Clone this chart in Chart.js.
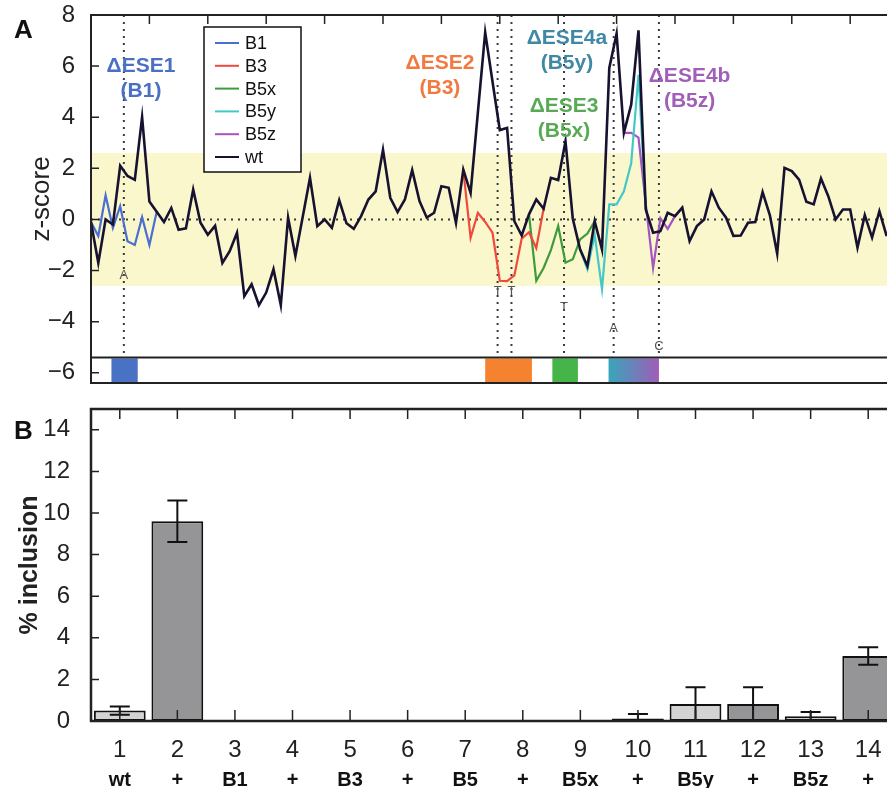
<!DOCTYPE html>
<html>
<head>
<meta charset="utf-8">
<script src="https://cdn.jsdelivr.net/npm/chart.js@4"></script>
<style>
  html, body { margin: 0; padding: 0; background: #fff; overflow: hidden; width: 887px; height: 788px; }
  #wrap { position: relative; width: 887px; height: 788px; overflow: hidden; }
  canvas { position: absolute; left: 0; }
  #cA { top: 0; }
  #cB { top: 395px; }
</style>
</head>
<body>
<div id="wrap">
  <canvas id="cA" width="900" height="395"></canvas>
  <canvas id="cB" width="900" height="393"></canvas>
</div>
<script>
// Panel A: ESE z-score profile for wt and the mutants, panel B: % inclusion per lane.

const FONT = '"Liberation Sans", Arial, Helvetica, sans-serif';

// --- panel A data (x = nucleotide window index) ---
const wtZ = [
  -0.1, -1.7, 0.0, -0.2, 2.1, 1.7, 1.55, 4.0, 0.7, 0.3,
  -0.1, 0.45, -0.4, -0.35, 1.17, -0.13, -0.6, -0.25, -1.7, -1.24,
  -0.52, -3.0, -2.54, -3.35, -2.86, -1.95, -3.35, 0.07, -1.43, 0.1,
  1.63, -0.26, 0.0, -0.33, 0.75, -0.15, -0.37, 0.13, 0.78, 1.1,
  2.73, 0.85, 0.29, 0.78, 1.93, 0.72, 0.07, 0.26, 1.3, 1.24,
  -0.13, 1.95, 1.04, 4.2, 7.32, 5.4, 3.5, 3.58, -0.07, -0.63,
  0.2, 0.78, 0.42, 1.63, 1.54, 3.06, 0.03, -1.17, -1.82, -0.07,
  -1.17, 5.93, 7.27, 3.39, 4.49, 7.4, 0.39, -0.52, -0.46, 0.26,
  0.13, 0.46, -0.85, -0.26, 0.0, 1.1, 0.46, 0.07, -0.64, -0.63,
  -0.13, -0.1, 1.07, 0.16, -1.34, 2.02, 1.89, 1.56, 0.69, 0.59,
  1.6, 0.91, 0.0, 0.39, 0.39, -1.1, 0.17, -0.71, 0.32, -0.65,
];
const b1Start = 0;
const b1Z = [-0.1, -0.65, 0.94, -0.33, 0.52, -0.85, -1.0, 0.09, -1.0, 0.3];
const b3Start = 51;
const b3Z = [1.95, -0.72, 0.26, -0.1, -0.52, -2.4, -2.41, -2.19, -0.75, -0.5, -1.12, 0.42];
const b5xStart = 60;
const b5xZ = [0.2, -2.4, -1.9, -1.2, -0.26, -1.69, -1.56, -0.78, -0.55, -0.07];
const b5yStart = 67;
const b5yZ = [-1.17, -1.95, -0.6, -2.73, 0.59, 0.59, 1.1, 2.2, 5.66, 0.39];
const b5zStart = 73;
const b5zZ = [3.39, 3.39, 3.2, 0.6, -1.9, 0.05, -0.37, 0.13, 0.46];

const zTicks = [-6, -4, -2, 0, 2, 4, 6, 8];
const xTickStep = 8;
const bandZ = [-2.6, 2.6];
const trackZ = -5.4;

// mutated sites: dotted line position and the substituted base
const siteX = [4.5, 55.7, 57.6, 64.8, 71.6, 77.8];
const siteBase = ['A', 'T', 'T', 'T', 'A', 'C'];
const siteBaseZ = [-2.2, -2.8, -2.8, -3.44, -4.26, -4.96];

// ESE blocks drawn in the track under the plot
const blockFrom = [2.8, 54.0, 63.2, 70.9];
const blockTo = [6.4, 60.4, 66.7, 77.8];
const blockColor = ['#4a72c4', '#f5822e', '#45b549', null];

const eseTitle = ['ΔESE1', 'ΔESE2', 'ΔESE4a', 'ΔESE3', 'ΔESE4b'];
const eseSub = ['(B1)', '(B3)', '(B5y)', '(B5x)', '(B5z)'];
const eseX = [6.85, 47.8, 65.2, 64.8, 82.0];
const eseZ = [5.98, 6.1, 7.1, 4.45, 5.6];
const eseColor = ['#4a6fc4', '#f07a40', '#3f88a6', '#5aaa55', '#a25fb8'];

// --- panel B data ---
const laneNums = ['1', '2', '3', '4', '5', '6', '7', '8', '9', '10', '11', '12', '13', '14'];
const laneNames = ['wt', '+', 'B1', '+', 'B3', '+', 'B5', '+', 'B5x', '+', 'B5y', '+', 'B5z', '+'];
const inclusion = [0.5, 9.6, 0.02, 0.02, 0.02, 0.02, 0.02, 0.02, 0.02, 0.12, 0.82, 0.82, 0.23, 3.13];
const inclusionErr = [0.2, 1.0, 0, 0, 0, 0, 0, 0, 0, 0.22, 0.8, 0.8, 0.2, 0.42];
const incTicks = [0, 2, 4, 6, 8, 10, 12, 14];

const LIGHT = '#d3d3d3', DARK = '#959597';

function pts(start, vals) { return vals.map((v, k) => ({ x: start + k, y: v })); }
function fmtMinus(v) { return v < 0 ? '\u2212' + Math.abs(v) : String(v); }

function dotted(ctx, x1, y1, x2, y2) {
  ctx.beginPath();
  ctx.moveTo(x1, y1);
  ctx.lineTo(x2, y2);
  ctx.stroke();
}

// keep the plot frame where the figure has it: no extra room for half-labels
function fixVertical(width) {
  return s => { s.width = width; s.paddingTop = 0; s.paddingBottom = 0; };
}

const profileUnderlay = {
  id: 'profile-under',
  beforeDatasetsDraw(chart) {
    const { ctx, chartArea: a, scales: { x, y } } = chart;
    ctx.save();
    const t = y.getPixelForValue(bandZ[1]), b = y.getPixelForValue(bandZ[0]);
    ctx.fillStyle = '#fbf7cc';
    ctx.fillRect(a.left, t, a.right - a.left, b - t);
    ctx.strokeStyle = '#3a3a3a';
    ctx.lineWidth = 2;
    ctx.setLineDash([2, 5]);
    const y0 = y.getPixelForValue(0);
    dotted(ctx, a.left, y0, a.right, y0);
    const yt = y.getPixelForValue(trackZ);
    for (const sx of siteX) {
      const px = x.getPixelForValue(sx);
      dotted(ctx, px, a.top, px, yt);
    }
    ctx.setLineDash([]);
    ctx.restore();
  },
};

const profileOverlay = {
  id: 'profile-over',
  afterDatasetsDraw(chart) {
    const { ctx, chartArea: a, scales: { x, y } } = chart;
    ctx.save();
    // substituted bases
    ctx.font = '13px ' + FONT;
    ctx.fillStyle = '#555';
    ctx.textAlign = 'center';
    ctx.textBaseline = 'middle';
    siteBase.forEach((s, i) => ctx.fillText(s, x.getPixelForValue(siteX[i]), y.getPixelForValue(siteBaseZ[i])));

    // track with ESE blocks
    const yt = y.getPixelForValue(trackZ);
    ctx.fillStyle = '#fff';
    ctx.fillRect(a.left, yt, a.right - a.left, a.bottom - yt);
    blockFrom.forEach((f, i) => {
      const x1 = x.getPixelForValue(f), x2 = x.getPixelForValue(blockTo[i]);
      if (blockColor[i]) {
        ctx.fillStyle = blockColor[i];
      } else {
        const g = ctx.createLinearGradient(x1, 0, x2, 0);
        g.addColorStop(0, '#38a6bb');
        g.addColorStop(1, '#a05cb8');
        ctx.fillStyle = g;
      }
      ctx.fillRect(x1, yt + 1, x2 - x1, a.bottom - yt - 1);
    });

    // frame
    ctx.strokeStyle = '#222';
    ctx.lineWidth = 2;
    ctx.beginPath();
    ctx.moveTo(a.right + 2, a.top); ctx.lineTo(a.left, a.top); ctx.lineTo(a.left, a.bottom); ctx.lineTo(a.right + 2, a.bottom);
    ctx.moveTo(a.left, yt); ctx.lineTo(a.right + 2, yt);
    ctx.stroke();
    ctx.lineWidth = 1.5;
    ctx.beginPath();
    for (let v = xTickStep; v < x.max; v += xTickStep) {
      const px = x.getPixelForValue(v);
      ctx.moveTo(px, a.top); ctx.lineTo(px, a.top + 9);
    }
    for (const v of zTicks) {
      const py = y.getPixelForValue(v);
      if (py <= a.top + 1) continue;
      ctx.moveTo(a.left, py); ctx.lineTo(a.left + 8, py);
    }
    ctx.stroke();

    // ESE annotations
    ctx.textBaseline = 'middle';
    eseTitle.forEach((t, i) => {
      const px = x.getPixelForValue(eseX[i]), py = y.getPixelForValue(eseZ[i]);
      ctx.fillStyle = eseColor[i];
      ctx.font = 'bold 21px ' + FONT;
      ctx.fillText(t, px, py);
      ctx.fillText(eseSub[i], px, py + 25);
    });

    // legend
    const lx = 204, ly = 27, lw = 97, lh = 145;
    ctx.fillStyle = '#fff';
    ctx.fillRect(lx, ly, lw, lh);
    ctx.strokeStyle = '#111';
    ctx.lineWidth = 1.5;
    ctx.strokeRect(lx, ly, lw, lh);
    ctx.font = '18px ' + FONT;
    ctx.textAlign = 'left';
    chart.data.datasets.forEach((ds, i) => {
      const ry = ly + 16 + i * 22.8;
      ctx.strokeStyle = ds.borderColor;
      ctx.lineWidth = 2;
      dotted(ctx, lx + 11, ry, lx + 35, ry);
      ctx.fillStyle = '#111';
      ctx.fillText(ds.label, lx + 41, ry + 1);
    });

    // panel letter
    ctx.fillStyle = '#111';
    ctx.font = 'bold 26px ' + FONT;
    ctx.fillText('A', 14, 31);
    ctx.restore();
  },
};

const lineDs = (label, data, color, order, width) => ({
  label, data, borderColor: color, backgroundColor: color,
  borderWidth: width, pointRadius: 0, fill: false, tension: 0, order,
});

new Chart(document.getElementById('cA'), {
  type: 'line',
  data: {
    datasets: [
      lineDs('B1', pts(b1Start, b1Z), '#4a6fd0', 1, 2.2),
      lineDs('B3', pts(b3Start, b3Z), '#f04a3e', 1, 2.2),
      lineDs('B5x', pts(b5xStart, b5xZ), '#3d9a3d', 1, 2.2),
      lineDs('B5y', pts(b5yStart, b5yZ), '#45c8c8', 1, 2.2),
      lineDs('B5z', pts(b5zStart, b5zZ), '#a455c0', 1, 2.2),
      lineDs('wt', pts(0, wtZ), '#161230', 0, 2.6),
    ],
  },
  options: {
    responsive: false, animation: false, events: [],
    layout: { padding: { top: 15, right: 2, bottom: 12, left: 0 } },
    scales: {
      x: { type: 'linear', min: 0, max: 110.55, display: false },
      y: {
        min: -6.4, max: 8,
        afterBuildTicks: s => { s.ticks = zTicks.map(v => ({ value: v })); },
        afterFit: fixVertical(91),
        grid: { display: false }, border: { display: false },
        ticks: { font: { size: 24, family: FONT }, color: '#222', padding: 8, callback: v => fmtMinus(v) },
        title: { display: true, text: 'z-score', font: { size: 26, family: FONT }, color: '#222', padding: { top: 26, bottom: 0 } },
      },
    },
    plugins: { legend: { display: false }, tooltip: { enabled: false } },
  },
  plugins: [profileUnderlay, profileOverlay],
});

const barDecor = {
  id: 'bar-decor',
  afterDatasetsDraw(chart) {
    const { ctx, chartArea: a, scales: { x, y } } = chart;
    ctx.save();
    // error bars
    ctx.strokeStyle = '#111';
    ctx.lineWidth = 2;
    const meta = chart.getDatasetMeta(0);
    meta.data.forEach((bar, i) => {
      const e = inclusionErr[i];
      if (!e) return;
      const v = inclusion[i];
      const top = y.getPixelForValue(v + e), bot = y.getPixelForValue(Math.max(0, v - e));
      ctx.beginPath();
      ctx.moveTo(bar.x, top); ctx.lineTo(bar.x, bot);
      ctx.moveTo(bar.x - 10, top); ctx.lineTo(bar.x + 10, top);
      if (v - e > 0.05) { ctx.moveTo(bar.x - 10, bot); ctx.lineTo(bar.x + 10, bot); }
      ctx.stroke();
    });
    // frame and inner ticks
    ctx.strokeStyle = '#222';
    ctx.lineWidth = 2.5;
    ctx.beginPath();
    ctx.moveTo(a.right + 2, a.top); ctx.lineTo(a.left, a.top); ctx.lineTo(a.left, a.bottom); ctx.lineTo(a.right + 2, a.bottom);
    ctx.stroke();
    ctx.lineWidth = 1.5;
    ctx.beginPath();
    laneNums.forEach((_, i) => {
      const px = x.getPixelForValue(i);
      ctx.moveTo(px, a.top); ctx.lineTo(px, a.top + 10);
      ctx.moveTo(px, a.bottom); ctx.lineTo(px, a.bottom - 11);
    });
    for (const v of incTicks) {
      if (v === 0) continue;
      const py = y.getPixelForValue(v);
      ctx.moveTo(a.left, py); ctx.lineTo(a.left + 8, py);
    }
    ctx.stroke();
    ctx.fillStyle = '#111';
    ctx.font = 'bold 26px ' + FONT;
    ctx.textAlign = 'left';
    ctx.textBaseline = 'middle';
    ctx.fillText('B', 14, 37);
    ctx.restore();
  },
};

new Chart(document.getElementById('cB'), {
  type: 'bar',
  data: {
    labels: laneNums,
    datasets: [{
      data: inclusion,
      backgroundColor: inclusion.map((_, i) => (i % 2 === 0 ? LIGHT : DARK)),
      borderColor: '#111', borderWidth: 2, borderSkipped: false,
      categoryPercentage: 1.0, barPercentage: 0.9,
    }],
  },
  options: {
    responsive: false, animation: false, events: [],
    layout: { padding: { top: 14, right: 3, bottom: 0, left: 0 } },
    scales: {
      x: {
        weight: 0, grid: { display: false }, border: { display: false },
        ticks: { font: { size: 24, family: FONT }, color: '#222', padding: 7, maxRotation: 0, autoSkip: false },
        afterFit: s => { s.height = 37; },
      },
      x2: {
        type: 'category', labels: laneNames, position: 'bottom', offset: true, weight: 1,
        grid: { display: false }, border: { display: false },
        ticks: { font: { size: 20, weight: 'bold', family: FONT }, color: '#111', padding: 2, maxRotation: 0, autoSkip: false },
        afterFit: s => { s.height = 30; },
      },
      y: {
        min: 0, max: 15,
        afterBuildTicks: s => { s.ticks = incTicks.map(v => ({ value: v })); },
        afterFit: fixVertical(91),
        grid: { display: false }, border: { display: false },
        ticks: { font: { size: 24, family: FONT }, color: '#222', padding: 13 },
        title: { display: true, text: '% inclusion', font: { size: 25, weight: 'bold', family: FONT }, color: '#222', padding: { top: 15, bottom: 0 } },
      },
    },
    plugins: { legend: { display: false }, tooltip: { enabled: false } },
  },
  plugins: [barDecor],
});
</script>
</body>
</html>
